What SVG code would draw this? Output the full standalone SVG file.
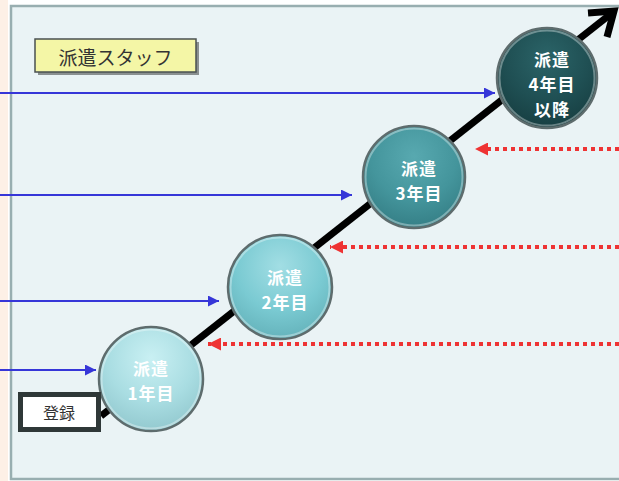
<svg xmlns="http://www.w3.org/2000/svg" width="619" height="481" viewBox="0 0 619 481">
<defs>
<style>
.jp{font-family:"Noto Sans CJK JP","Noto Sans CJK SC",sans-serif;}
.ct{font-size:17px;font-weight:bold;fill:#ffffff;text-anchor:middle;dominant-baseline:central;letter-spacing:1px;}
.blue{stroke:#3636D8;stroke-width:2.2;fill:none;}
.red{stroke:#EE3333;stroke-width:4;stroke-dasharray:4 4;fill:none;}
.ring{fill:none;stroke:#5E6C6D;stroke-width:2.5;}
.ringin{fill:none;stroke:#ffffff;stroke-opacity:0.35;stroke-width:2;}
</style>
<radialGradient id="g1" cx="0.5" cy="0.3" r="0.7">
<stop offset="0" stop-color="#C9F0F3"/><stop offset="0.6" stop-color="#A9DDE2"/><stop offset="1" stop-color="#93C9CF"/>
</radialGradient>
<radialGradient id="g2" cx="0.5" cy="0.3" r="0.7">
<stop offset="0" stop-color="#A2DEE4"/><stop offset="0.6" stop-color="#7ACAD2"/><stop offset="1" stop-color="#65B3BB"/>
</radialGradient>
<radialGradient id="g3" cx="0.5" cy="0.3" r="0.7">
<stop offset="0" stop-color="#58A9B0"/><stop offset="0.6" stop-color="#44959C"/><stop offset="1" stop-color="#357F86"/>
</radialGradient>
<radialGradient id="g4" cx="0.5" cy="0.3" r="0.7">
<stop offset="0" stop-color="#2B6468"/><stop offset="0.6" stop-color="#1F4F53"/><stop offset="1" stop-color="#173F42"/>
</radialGradient>
<marker id="ab" viewBox="0 0 10 10" refX="10" refY="5" markerWidth="11" markerHeight="11" markerUnits="userSpaceOnUse" orient="auto">
<path d="M0,0 L10,5 L0,10 Z" fill="#3636D8"/>
</marker>
<marker id="ar" viewBox="0 0 10 10" refX="10" refY="5" markerWidth="14" markerHeight="13" markerUnits="userSpaceOnUse" orient="auto">
<path d="M0,0 L10,5 L0,10 Z" fill="#EE3333"/>
</marker>
</defs>
<rect x="0" y="0" width="619" height="481" fill="#ffffff"/>
<rect x="0" y="0" width="8" height="481" fill="#FDF0E6"/>
<rect x="11" y="6" width="620" height="473" fill="#EAF3F5" stroke="#98AEB0" stroke-width="2.5"/>

<g id="connectors">
<line x1="101" y1="416" x2="612" y2="13" stroke="#000" stroke-width="7"/>
<path d="M588,13 L614,11 L607,37" fill="none" stroke="#000" stroke-width="7" stroke-linejoin="miter"/>
<line class="blue" x1="0" y1="93" x2="495" y2="93" marker-end="url(#ab)"/>
<line class="blue" x1="0" y1="195" x2="352" y2="195" marker-end="url(#ab)"/>
<line class="blue" x1="0" y1="301" x2="219" y2="301" marker-end="url(#ab)"/>
<line class="blue" x1="0" y1="370" x2="96" y2="370" marker-end="url(#ab)"/>
<line class="red" x1="619" y1="149" x2="475" y2="149" marker-end="url(#ar)"/>
<line class="red" x1="619" y1="247" x2="330" y2="247" marker-end="url(#ar)"/>
<line class="red" x1="619" y1="344" x2="208" y2="344" marker-end="url(#ar)"/>
</g>

<g id="title">
<rect x="38" y="42" width="161" height="33" fill="#8A9090"/>
<rect x="35" y="39" width="161" height="33" fill="#F4F6A6" stroke="#4A5050" stroke-width="1.5"/>
<text class="jp" x="115.5" y="56" font-size="19" fill="#333" text-anchor="middle" dominant-baseline="central">派遣スタッフ</text>
</g>

<g id="n1">
<circle cx="151" cy="379" r="52" fill="url(#g1)"/>
<circle class="ringin" cx="151" cy="379" r="49.5"/>
<circle class="ring" cx="151" cy="379" r="52"/>
<text class="jp ct" x="151" y="367">派遣</text>
<text class="jp ct" x="151" y="392">1年目</text>
</g>
<g id="n2">
<circle cx="280" cy="287" r="52" fill="url(#g2)"/>
<circle class="ringin" cx="280" cy="287" r="49.5"/>
<circle class="ring" cx="280" cy="287" r="52"/>
<text class="jp ct" x="285" y="276">派遣</text>
<text class="jp ct" x="285" y="301">2年目</text>
</g>
<g id="n3">
<circle cx="414" cy="177" r="51" fill="url(#g3)"/>
<circle class="ringin" cx="414" cy="177" r="48.5"/>
<circle class="ring" cx="414" cy="177" r="51"/>
<text class="jp ct" x="419" y="167">派遣</text>
<text class="jp ct" x="419" y="192">3年目</text>
</g>
<g id="n4">
<circle cx="547" cy="78" r="50" fill="url(#g4)"/>
<circle class="ringin" cx="547" cy="78" r="47.5"/>
<circle class="ring" cx="547" cy="78" r="50"/>
<text class="jp ct" x="552" y="58">派遣</text>
<text class="jp ct" x="552" y="83">4年目</text>
<text class="jp ct" x="552" y="108">以降</text>
</g>

<g id="toroku">
<rect x="20.5" y="394.5" width="78" height="35" fill="#ffffff" stroke="#2F3838" stroke-width="5"/>
<text class="jp" x="59" y="412" font-size="16" fill="#333" text-anchor="middle" dominant-baseline="central">登録</text>
</g>
</svg>
